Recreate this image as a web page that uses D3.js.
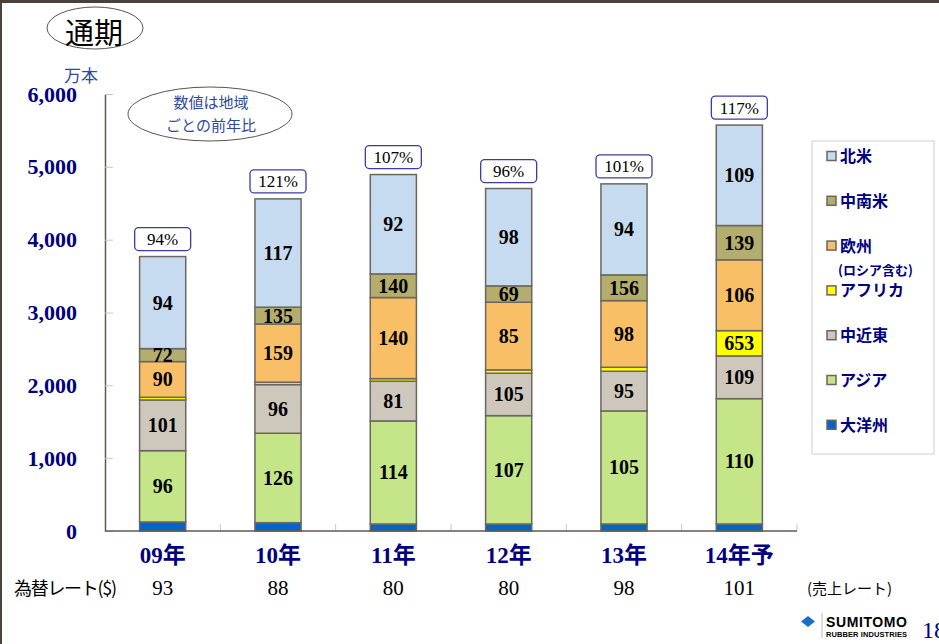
<!DOCTYPE html>
<html>
<head>
<meta charset="utf-8">
<script src="https://cdn.jsdelivr.net/npm/d3@7"></script>
<style>
  body { margin: 0; background: #fff; }
  svg text { font-family: "Liberation Serif", "Noto Sans CJK JP", serif; }
  svg text.jp { font-family: "Noto Sans CJK JP", sans-serif; }
  svg text.logo { font-family: "Liberation Sans", sans-serif; }
</style>
</head>
<body>
<svg id="chart" width="939" height="644"></svg>
<script>
// 万本 (bottom to top of each bar)
let years = ["09年", "10年", "11年", "12年", "13年", "14年予"];
let oceania  = [124, 114, 96, 96, 96, 96];
let asia     = [979, 1228, 1415, 1488, 1552, 1721];
let mideast  = [696, 668, 545, 582, 545, 587];
let africa   = [37, 33, 36, 46, 55, 347];
let europe   = [490, 800, 1113, 929, 915, 972];
let latam    = [178, 230, 325, 224, 353, 471];
let namerica = [1264, 1487, 1364, 1337, 1250, 1379];

// 前年比 (%) printed inside the segments
let asiaYoY     = [96, 126, 114, 107, 105, 110];
let mideastYoY  = [101, 96, 81, 105, 95, 109];
let africaYoY   = [null, null, null, null, null, 653];
let europeYoY   = [90, 159, 140, 85, 98, 106];
let latamYoY    = [72, 135, 140, 69, 156, 139];
let namericaYoY = [94, 117, 92, 98, 94, 109];
let totalYoY    = [94, 121, 107, 96, 101, 117];

let rates = [93, 88, 80, 80, 98, 101];
let yTicks = [0, 1000, 2000, 3000, 4000, 5000, 6000];

let keys   = ["oceania", "asia", "mideast", "africa", "europe", "latam", "namerica"];
let names  = {oceania: "大洋州", asia: "アジア", mideast: "中近東", africa: "アフリカ",
              europe: "欧州", latam: "中南米", namerica: "北米"};
let colors = {oceania: "#0066cc", asia: "#c4e588", mideast: "#cec8bc", africa: "#ffff00",
              europe: "#f9bf66", latam: "#b3ad6e", namerica: "#c6dbef"};
let yoy    = {asia: asiaYoY, mideast: mideastYoY, africa: africaYoY,
              europe: europeYoY, latam: latamYoY, namerica: namericaYoY};
let series = {oceania: oceania, asia: asia, mideast: mideast, africa: africa,
              europe: europe, latam: latam, namerica: namerica};

let navy = "#000080";
let svg = d3.select("svg#chart");

let x = d3.scaleBand().domain(years).range([105, 797]).paddingInner(0.6).paddingOuter(0.3);
let xo = d3.scaleBand().domain(years).range([105, 797]).padding(0);
let y = d3.scaleLinear().domain([0, 6000]).range([531, 94]);

let rows = years.map(function(yr, i) {
  let r = {year: yr, idx: i};
  keys.forEach(function(k) { r[k] = series[k][i]; });
  return r;
});
let stacked = d3.stack().keys(keys)(rows);

// page frame
svg.append("rect").attr("x", 0).attr("y", 0).attr("width", 939).attr("height", 3).attr("fill", "#4a4238");
svg.append("rect").attr("x", 0).attr("y", 0).attr("width", 2).attr("height", 644).attr("fill", "#4a4238");

// title
svg.append("ellipse").attr("cx", 95).attr("cy", 28).attr("rx", 48).attr("ry", 21)
   .attr("fill", "none").attr("stroke", "#5a5550").attr("stroke-width", 1);
svg.append("text").attr("class", "jp").attr("x", 94).attr("y", 44)
   .attr("text-anchor", "middle").attr("font-size", 29).text("通期");

svg.append("text").attr("class", "jp").attr("x", 81).attr("y", 82)
   .attr("text-anchor", "middle").attr("font-size", 17).attr("fill", "#2f4a9a").text("万本");

// note ellipse
svg.append("ellipse").attr("cx", 210).attr("cy", 114).attr("rx", 82).attr("ry", 27)
   .attr("fill", "#fff").attr("stroke", "#5a5550").attr("stroke-width", 1);
svg.append("text").attr("class", "jp").attr("x", 211).attr("y", 108)
   .attr("text-anchor", "middle").attr("font-size", 15).attr("fill", "#2f4a9a").text("数値は地域");
svg.append("text").attr("class", "jp").attr("x", 211).attr("y", 131)
   .attr("text-anchor", "middle").attr("font-size", 15).attr("fill", "#2f4a9a").text("ごとの前年比");

// y axis
let yAxis = svg.append("g")
  .attr("transform", "translate(105,0)")
  .call(d3.axisLeft(y).tickValues(yTicks).tickFormat(d3.format(",")).tickSizeInner(-8).tickSizeOuter(0).tickPadding(28));
yAxis.select(".domain").attr("stroke", "#5e5850").attr("stroke-width", 1.5);
yAxis.selectAll(".tick line").attr("stroke", "#c8c8c8");
yAxis.selectAll(".tick text")
  .attr("font-size", 22).attr("font-weight", "bold").attr("fill", navy);

// x axis: category boundary ticks
let bounds = years.map(function(d) { return xo(d); }).concat([797]).slice(1);
svg.append("g").selectAll("line").data(bounds).enter().append("line")
  .attr("x1", function(d) { return d; }).attr("x2", function(d) { return d; })
  .attr("y1", 524).attr("y2", 531)
  .attr("stroke", "#c8c8c8");

// bars
let layer = svg.append("g").selectAll("g").data(stacked).enter().append("g")
  .attr("fill", function(d) { return colors[d.key]; });

layer.selectAll("rect").data(function(d) { return d; }).enter().append("rect")
  .attr("x", function(d) { return x(d.data.year); })
  .attr("width", x.bandwidth())
  .attr("y", function(d) { return y(d[1]); })
  .attr("height", function(d) { return y(d[0]) - y(d[1]); })
  .attr("stroke", "#6b6660")
  .attr("stroke-width", 1.5);

svg.append("line").attr("x1", 105).attr("x2", 797).attr("y1", 531).attr("y2", 531)
  .attr("stroke", "#5e5850").attr("stroke-width", 1.5);

// segment labels
let labels = [];
stacked.forEach(function(s) {
  if (!yoy[s.key]) return;
  s.forEach(function(d, i) {
    let v = yoy[s.key][i];
    if (v === null) return;
    labels.push({year: d.data.year, mid: (d[0] + d[1]) / 2, text: v});
  });
});
svg.append("g").selectAll("text").data(labels).enter().append("text")
  .attr("x", function(d) { return x(d.year) + x.bandwidth() / 2; })
  .attr("y", function(d) { return y(d.mid); })
  .attr("dy", "0.35em")
  .attr("text-anchor", "middle")
  .attr("font-size", 20).attr("font-weight", "bold")
  .text(function(d) { return d.text; });

// total YoY boxes
let tops = stacked[stacked.length - 1];
let boxes = svg.append("g").selectAll("g").data(tops).enter().append("g")
  .attr("transform", function(d) {
    return "translate(" + (x(d.data.year) + x.bandwidth() / 2) + "," + (y(d[1]) - 29) + ")";
  });
boxes.append("rect").attr("x", -28).attr("y", 0).attr("width", 56).attr("height", 23)
  .attr("rx", 4).attr("fill", "#fff").attr("stroke", "#3c3ca0").attr("stroke-width", 1.3);
boxes.append("text").attr("x", 0).attr("y", 17.5).attr("text-anchor", "middle")
  .attr("font-size", 17)
  .text(function(d) { return totalYoY[d.data.idx] + "%"; });

// category labels
svg.append("g").selectAll("text").data(years).enter().append("text")
  .attr("x", function(d) { return x(d) + x.bandwidth() / 2; })
  .attr("y", 563)
  .attr("text-anchor", "middle")
  .attr("font-size", 23).attr("font-weight", "bold").attr("fill", navy)
  .text(function(d) { return d; });

// exchange rates
svg.append("text").attr("class", "jp").attr("x", 14).attr("y", 595)
  .attr("font-size", 18).attr("textLength", 103).text("為替レート($)");
svg.append("g").selectAll("text").data(rates).enter().append("text")
  .attr("x", function(d, i) { return x(years[i]) + x.bandwidth() / 2; })
  .attr("y", 595)
  .attr("text-anchor", "middle")
  .attr("font-size", 21)
  .text(function(d) { return d; });
svg.append("text").attr("class", "jp").attr("x", 807).attr("y", 594)
  .attr("font-size", 15).text("(売上レート)");

// legend
let legendOrder = keys.slice().reverse();
svg.append("rect").attr("x", 812).attr("y", 141).attr("width", 122).attr("height", 313)
  .attr("fill", "#fff").attr("stroke", "#cfcfcf").attr("stroke-width", 1);
let items = svg.append("g").selectAll("g").data(legendOrder).enter().append("g")
  .attr("transform", function(d, i) { return "translate(827," + (156 + i * 44.8) + ")"; });
items.append("rect").attr("x", 0).attr("y", -4.5).attr("width", 9).attr("height", 9)
  .attr("fill", function(d) { return colors[d]; })
  .attr("stroke", "#6b6660").attr("stroke-width", 1.5);
items.append("text").attr("class", "jp").attr("x", 13).attr("y", 6)
  .attr("font-size", 16).attr("font-weight", "bold").attr("fill", navy)
  .text(function(d) { return names[d]; });
svg.append("text").attr("class", "jp").attr("x", 838).attr("y", 275)
  .attr("font-size", 13).attr("font-weight", "bold").attr("fill", navy).text("(ロシア含む)");

// logo + page number
svg.append("path").attr("d", "M808,616 L815,621.5 L808,627 L801,621.5 Z").attr("fill", "#1a6fc4");
svg.append("line").attr("x1", 822).attr("x2", 822).attr("y1", 613).attr("y2", 638).attr("stroke", "#bbb");
svg.append("text").attr("class", "logo").attr("x", 826).attr("y", 627)
  .attr("font-size", 14).attr("font-weight", "bold").attr("textLength", 81).text("SUMITOMO");
svg.append("text").attr("class", "logo").attr("x", 826).attr("y", 637)
  .attr("font-size", 7.5).attr("font-weight", "bold").attr("textLength", 81).text("RUBBER INDUSTRIES");
svg.append("text").attr("x", 922).attr("y", 638).attr("font-size", 24).attr("fill", navy).text("18");
</script>
</body>
</html>
